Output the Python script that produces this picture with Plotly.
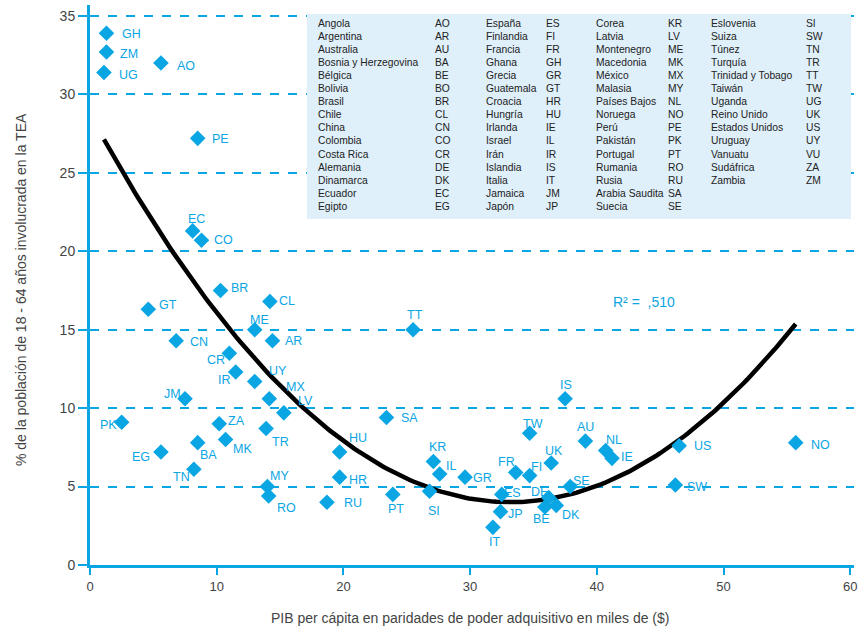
import numpy as np
import plotly.graph_objects as go

# ---- data ----
codes = ["GH","ZM","UG","AO","PE","EC","CO","BR","CL","GT","ME","CN","AR","CR","IR","UY","MX","LV",
         "JM","PK","ZA","TR","SA","MK","BA","EG","HU","TN","HR","MY","RO","RU","PT","SI","TT","KR",
         "IL","GR","ES","JP","IT","FR","FI","TW","UK","AU","IS","NL","IE","DE","BE","DK","SE","US","SW","NO"]
gdp = [1.3,1.3,1.1,5.6,8.5,8.1,8.8,10.3,14.2,4.6,13.0,6.8,14.4,11.0,11.5,13.0,14.15,15.3,
       7.5,2.5,10.2,13.9,23.4,10.7,8.5,5.6,19.7,8.2,19.7,14.0,14.1,18.7,23.9,26.8,25.5,27.1,
       27.6,29.6,32.5,32.4,31.8,33.6,34.7,34.7,36.4,39.1,37.5,40.7,41.2,36.2,35.9,36.8,37.9,46.5,46.2,55.7]
tea = [33.9,32.7,31.4,32.0,27.2,21.3,20.7,17.5,16.8,16.3,15.0,14.3,14.3,13.5,12.3,11.7,10.6,9.7,
       10.6,9.1,9.0,8.7,9.4,8.0,7.8,7.2,7.2,6.1,5.6,5.0,4.4,4.0,4.5,4.7,15.0,6.6,
       5.8,5.6,4.5,3.4,2.4,5.9,5.7,8.4,6.5,7.9,10.6,7.3,6.8,4.3,3.7,3.8,5.0,7.6,5.1,7.8]

# quadratic trendline coefficients as shown in the chart (y = a x^2 + b x + c)
trend_coef = [0.02245, -1.4907, 28.745]

legend_names = [
    ["Angola","Argentina","Australia","Bosnia y Herzegovina","Bélgica","Bolivia","Brasil","Chile","China",
     "Colombia","Costa Rica","Alemania","Dinamarca","Ecuador","Egipto"],
    ["España","Finlandia","Francia","Ghana","Grecia","Guatemala","Croacia","Hungría","Irlanda","Israel",
     "Irán","Islandia","Italia","Jamaica","Japón"],
    ["Corea","Latvia","Montenegro","Macedonia","México","Malasia","Países Bajos","Noruega","Perú","Pakistán",
     "Portugal","Rumania","Rusia","Arabia Saudita","Suecia"],
    ["Eslovenia","Suiza","Túnez","Turquía","Trinidad y Tobago","Taiwán","Uganda","Reino Unido",
     "Estados Unidos","Uruguay","Vanuatu","Sudáfrica","Zambia"],
]
legend_codes = [
    ["AO","AR","AU","BA","BE","BO","BR","CL","CN","CO","CR","DE","DK","EC","EG"],
    ["ES","FI","FR","GH","GR","GT","HR","HU","IE","IL","IR","IS","IT","JM","JP"],
    ["KR","LV","ME","MK","MX","MY","NL","NO","PE","PK","PT","RO","RU","SA","SE"],
    ["SI","SW","TN","TR","TT","TW","UG","UK","US","UY","VU","ZA","ZM"],
]
x_ticks = [0, 10, 20, 30, 40, 50, 60]
y_ticks = [0, 5, 10, 15, 20, 25, 30, 35]
r2_text = "R² =  ,510"
x_title = "PIB per cápita en paridades de poder adquisitivo en miles de ($)"
y_title = "% de la población de 18 - 64 años involucrada en la TEA"

# ---- label offsets (pixels, dx right, dy down) ----
label_off = {
 "GH":(25,1),"ZM":(23,2),"UG":(25,3),"AO":(25,3),"PE":(23,1),"EC":(4,-12),"CO":(22,0),"BR":(19,-2),
 "CL":(17,0),"GT":(20,-4),"ME":(5,-10),"CN":(23,1),"AR":(21,0),"CR":(-13,7),"IR":(-11,8),"UY":(23,-10),
 "MX":(26,-12),"LV":(22,-12),"JM":(-13,-5),"PK":(-13,3),"ZA":(17,-3),"TR":(14,13),"SA":(23,0),
 "MK":(17,9),"BA":(11,12),"EG":(-20,5),"HU":(18,-14),"TN":(-12,8),"HR":(18,3),"MY":(12,-11),
 "RO":(18,12),"RU":(26,1),"PT":(3,15),"SI":(4,20),"TT":(2,-15),"KR":(4,-14),"IL":(11,-8),"GR":(17,1),
 "ES":(11,-1),"JP":(15,2),"IT":(2,15),"FR":(-9,-10),"FI":(7,-9),"TW":(3,-9),"UK":(3,-12),"AU":(0,-14),
 "IS":(1,-14),"NL":(8,-10),"IE":(15,-1),"DE":(-9,-6),"BE":(-3,12),"DK":(15,10),"SE":(11,-6),
 "US":(23,0),"SW":(22,2),"NO":(25,2),
}

BLUE = "#0AA5E3"
FONT = "Liberation Sans, Arial, sans-serif"

W, H = 858, 631
ml, mr, mt, mb = 90, 4, 5, 66
x_rng = [0, 60.3]
y_rng = [0, 35.7]

def paper_x(p):
    return (p - ml) / (W - ml - mr)

def paper_y(p):
    return (H - mb - p) / (H - mt - mb)

fig = go.Figure()

xs = np.linspace(min(gdp), max(gdp), 200)
fig.add_trace(go.Scatter(x=xs, y=np.polyval(trend_coef, xs), mode="lines",
                         line=dict(color="black", width=4.5), hoverinfo="skip"))

fig.add_trace(go.Scatter(x=gdp, y=tea, mode="markers", text=codes,
                         marker=dict(symbol="diamond", size=12, color=BLUE, line=dict(width=0))))

annotations = []
for c, xv, yv in zip(codes, gdp, tea):
    dx, dy = label_off[c]
    annotations.append(dict(x=xv, y=yv, xref="x", yref="y", text=c, showarrow=False,
                            xshift=dx, yshift=-dy, font=dict(family=FONT, size=12.5, color=BLUE)))

shapes = [dict(type="rect", xref="paper", yref="paper", x0=paper_x(307), x1=paper_x(851),
               y0=paper_y(219), y1=paper_y(14), fillcolor="#DFF0FA", line=dict(width=0), layer="above")]

name_x = [316, 484, 594, 709]
code_x = [433, 544, 666, 804]
row0, dyrow = 23, 13.1
for col in range(4):
    for i, (nm, cd) in enumerate(zip(legend_names[col], legend_codes[col])):
        yy = paper_y(row0 + i * dyrow)
        annotations.append(dict(x=paper_x(name_x[col]), y=yy, xref="paper", yref="paper", text=nm,
                                showarrow=False, xanchor="left", yanchor="middle",
                                font=dict(family=FONT, size=10.3, color="#222")))
        annotations.append(dict(x=paper_x(code_x[col]), y=yy, xref="paper", yref="paper", text=cd,
                                showarrow=False, xanchor="left", yanchor="middle",
                                font=dict(family=FONT, size=10.3, color="#222")))

annotations.append(dict(x=paper_x(611), y=paper_y(302), xref="paper", yref="paper", text=r2_text,
                        showarrow=False, xanchor="left", yanchor="middle",
                        font=dict(family=FONT, size=14, color=BLUE)))

# axis titles
annotations.append(dict(x=paper_x(470), y=paper_y(618), xref="paper", yref="paper", text=x_title,
                        showarrow=False, xanchor="center", yanchor="middle",
                        font=dict(family=FONT, size=14, color="#444")))
annotations.append(dict(x=paper_x(21), y=paper_y(290), xref="paper", yref="paper", text=y_title,
                        showarrow=False, xanchor="center", yanchor="middle", textangle=-90,
                        font=dict(family=FONT, size=14, color="#444")))

fig.update_layout(
    width=W, height=H, margin=dict(l=ml, r=mr, t=mt, b=mb, autoexpand=False),
    paper_bgcolor="white", plot_bgcolor="white", showlegend=False,
    font=dict(family=FONT, color="#444"),
    xaxis=dict(range=x_rng, tickvals=x_ticks, showgrid=False, zeroline=False, automargin=False,
               showline=True, linecolor=BLUE, linewidth=3, ticks="outside", ticklen=7,
               tickcolor=BLUE, tickwidth=2, tickfont=dict(size=13, color="#444")),
    yaxis=dict(range=y_rng, tickvals=y_ticks, showgrid=True, gridcolor=BLUE, automargin=False,
               gridwidth=2, griddash="dash", zeroline=False, showline=True, linecolor=BLUE,
               linewidth=3, ticks="outside", ticklen=9, tickcolor=BLUE, tickwidth=2,
               tickfont=dict(size=14, color="#444")),
    shapes=shapes, annotations=annotations,
)

fig.write_html("out.html", config={"displayModeBar": False},
               post_script="document.body.style.margin='0';document.body.style.overflow='hidden';")
